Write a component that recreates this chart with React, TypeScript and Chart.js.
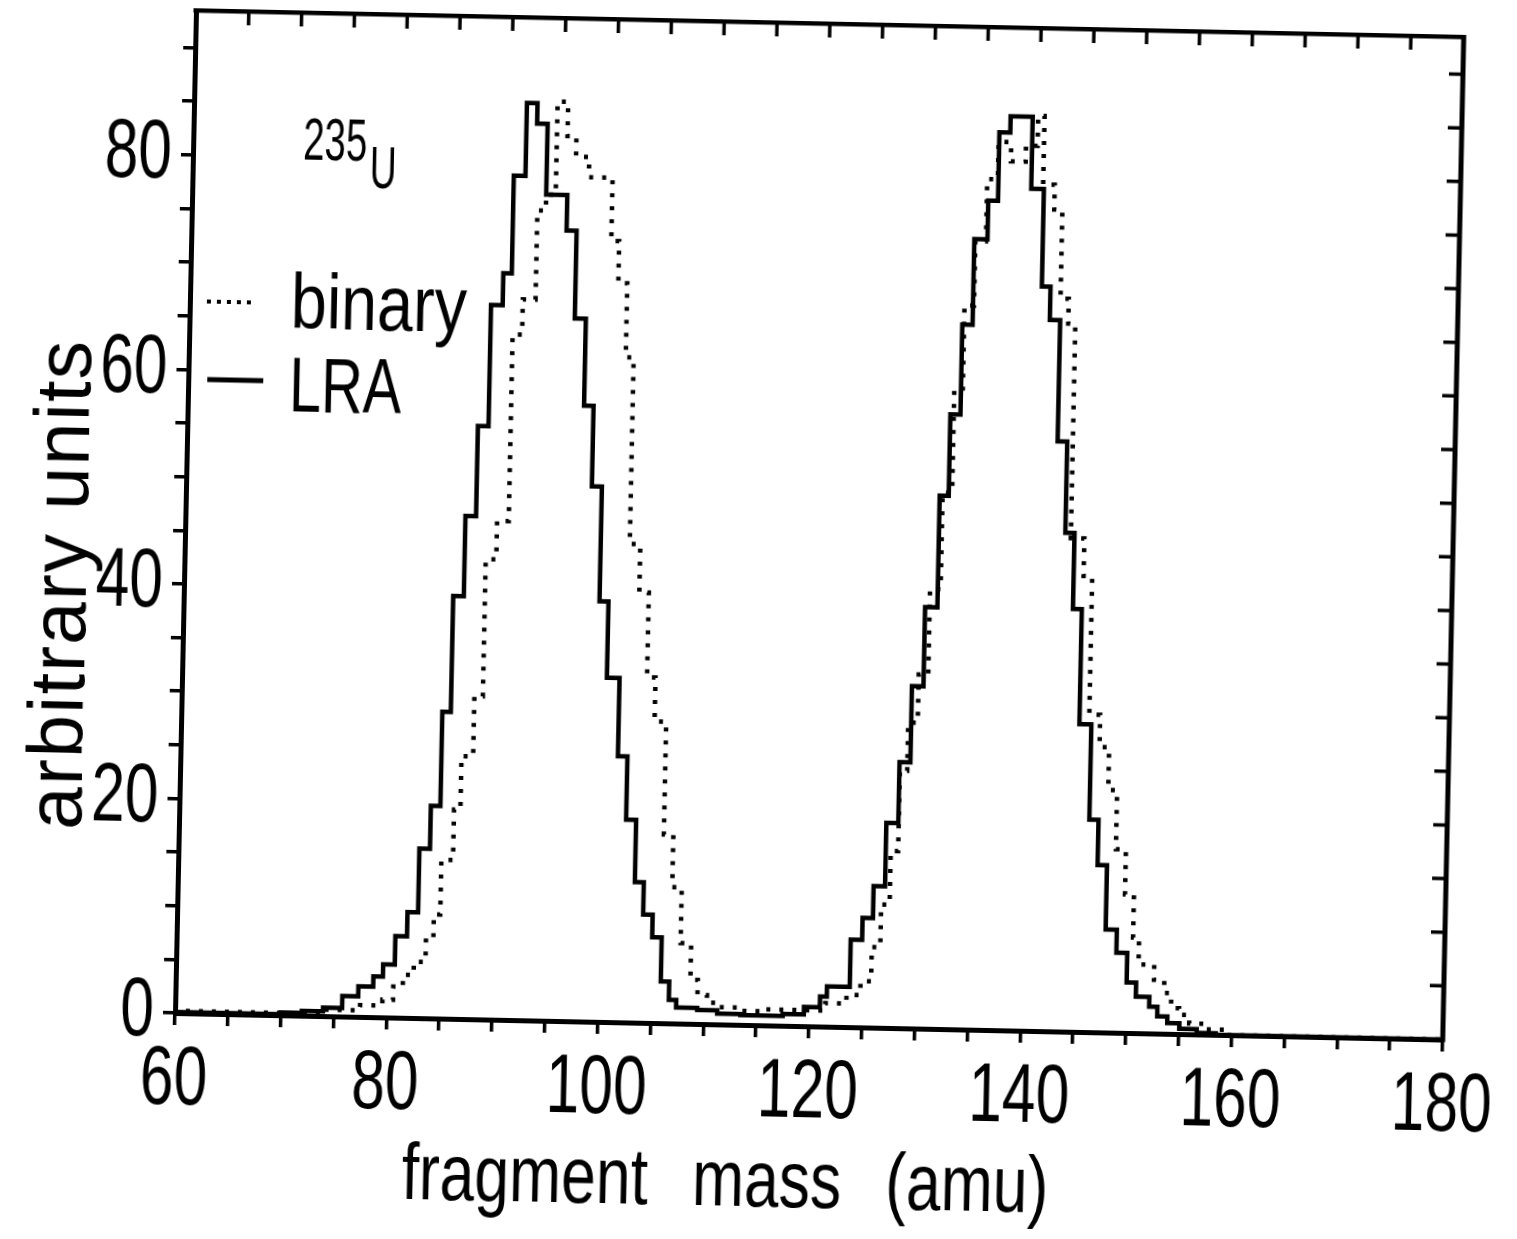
import { useEffect, useRef } from 'react';
import { Chart, registerables, LinearScale } from 'chart.js';

// ---- data (bin left edges in amu, and the height of each bin) ----
const lraEdges = [60, 70, 72, 74, 75.8, 77.3, 78.7, 79.6, 80.7, 81.8, 82.8, 83.8, 84.7, 85.5, 86.5, 87.5, 88.5, 89.6, 90.4, 91.5, 92.5, 93.5, 95.5, 96.45, 97.5, 98.4, 99.35, 100.2, 101.4, 102.3, 103.25, 104.1, 105.0, 105.9, 106.7, 107.4, 109.4, 111.3, 113.5, 117.5, 119.5, 121.0, 121.64, 123.79, 124.87, 125.85, 126.93, 128.06, 129.08, 130.17, 131.33, 132.18, 133.13, 134.1, 135.34, 136.26, 137.29, 139.38, 140.58, 141.4, 142.38, 143.29, 144.16, 145.0, 146.13, 147.0, 147.89, 148.95, 149.98, 150.88, 152.16, 152.94, 153.9, 155.05, 156.7, 158.5, 161, 180];
const lraValues = [0, 0.1, 0.25, 0.45, 0.8, 1.9, 2.85, 3.8, 4.95, 7.6, 9.85, 15.8, 19.8, 28.6, 39.4, 46.9, 55.3, 66.6, 69.6, 78.7, 85.5, 83.6, 77.0, 73.7, 65.5, 57.4, 49.9, 39.2, 32.1, 24.8, 18.9, 13.1, 10.1, 8.0, 3.9, 2.2, 1.5, 1.3, 1.0, 0.9, 1.1, 1.8, 2.8, 3.75, 8.15, 10.2, 13.2, 19.1, 24.8, 31.9, 39.3, 49.7, 57.3, 65.7, 73.7, 77.3, 83.7, 85.2, 78.5, 69.4, 66.3, 55.0, 46.5, 39.4, 28.7, 19.8, 15.6, 9.6, 7.45, 4.7, 3.4, 2.5, 1.6, 1.0, 0.5, 0.15, 0, 0];

const binaryEdges = [60, 74, 77.5, 79.6, 80.6, 81.5, 82.5, 83.6, 84.3, 84.9, 86.0, 86.6, 87.7, 88.5, 89.5, 90.6, 91.5, 92.7, 93.5, 94.4, 95.4, 96.25, 97.5, 99.75, 100.5, 101.35, 102.1, 103.1, 104.0, 104.8, 105.9, 106.8, 107.7, 108.7, 109.4, 110.3, 111.5, 113.4, 115.3, 121.5, 123.5, 124.8, 125.8, 126.6, 127.4, 128.1, 128.8, 129.7, 130.6, 131.6, 132.5, 133.3, 134.2, 135.2, 136.2, 137.4, 138.8, 139.9, 140.5, 141.6, 142.37, 143.15, 143.82, 145.1, 145.92, 146.95, 147.86, 148.7, 149.65, 150.5, 151.07, 152.56, 153.54, 154.23, 155.0, 155.98, 157.42, 159.3, 161.2, 180];
const binaryValues = [0, 0.2, 0.6, 1.1, 1.65, 2.9, 4.0, 5.25, 7.5, 9.7, 14.8, 19.5, 24.5, 30.1, 42.9, 46.5, 63.9, 67.2, 75.5, 77.0, 85.7, 82.5, 80.6, 78.7, 72.8, 68.9, 62.0, 44.6, 40.1, 32.2, 28.1, 17.6, 12.7, 7.5, 4.1, 2.7, 2.0, 1.6, 1.3, 1.5, 2.2, 3.0, 4.3, 7.5, 11.5, 16.5, 24.0, 28.5, 33.0, 41.0, 50.0, 59.5, 67.5, 73.5, 79.3, 82.8, 81.0, 82.5, 85.3, 78.9, 76.6, 68.3, 66.0, 46.0, 42.5, 29.6, 26.6, 22.6, 17.1, 12.9, 8.9, 6.4, 5.0, 3.8, 2.4, 1.8, 1.0, 0.5, 0, 0];

const seriesNames = ['binary', 'LRA'];
const xTitle = 'fragment mass (amu)';
const yTitle = 'arbitrary units';
const isotopeMass = '235';
const isotopeSymbol = 'U';

const X_MIN = 60;
const X_MAX = 180;
const Y_MIN = 0;
const Y_MAX = 93.5;
const TICK_STEP = 5;
const LABEL_STEP = 20;

const FONT = "'Liberation Sans', Arial, sans-serif";
const TICK_SQUEEZE = 0.72;

// Linear scale whose tick labels are drawn horizontally condensed (like the
// narrow typeface of the original figure).
class NarrowLinearScale extends LinearScale {
  static id = 'narrowLinear';
  static defaults = LinearScale.defaults;
  drawLabels(chartArea: any) {
    const self: any = this;
    if (!self.options.ticks.display) return;
    const ctx = self.ctx;
    for (const item of self.getLabelItems(chartArea)) {
      if (item.label === '' || item.label == null) continue;
      const o = item.options;
      ctx.save();
      ctx.translate(o.translation[0], o.translation[1]);
      if (o.rotation) ctx.rotate(o.rotation);
      ctx.scale(TICK_SQUEEZE, 1);
      ctx.font = item.font.string;
      ctx.fillStyle = o.color;
      ctx.textAlign = o.textAlign;
      ctx.textBaseline = o.textBaseline;
      ctx.fillText(String(item.label), 0, item.textOffset);
      ctx.restore();
    }
  }
}

Chart.register(...registerables, NarrowLinearScale);

const toPoints = (edges: number[], values: number[]) => edges.map((x, i) => ({ x, y: values[i] }));

function squeezedText(ctx: any, text: string, x: number, y: number, font: string, sx: number) {
  ctx.save();
  ctx.translate(x, y);
  ctx.scale(sx, 1);
  ctx.font = font;
  ctx.fillText(text, 0, 0);
  ctx.restore();
}

const framePlugin = {
  id: 'frameAndNotes',
  afterDraw(chart: any) {
    const { ctx, chartArea } = chart;
    const { left, right, top, bottom } = chartArea;
    const xs = chart.scales.x;
    const ys = chart.scales.y;
    ctx.save();
    ctx.strokeStyle = '#000';
    ctx.fillStyle = '#000';
    ctx.lineCap = 'butt';
    // top and right frame lines
    ctx.lineWidth = 5;
    ctx.beginPath();
    ctx.moveTo(left - 2.5, top);
    ctx.lineTo(right, top);
    ctx.lineTo(right, bottom + 2.5);
    ctx.stroke();
    // inward ticks on top and right
    ctx.lineWidth = 3.5;
    ctx.beginPath();
    for (const t of xs.ticks) {
      const px = xs.getPixelForValue(t.value);
      ctx.moveTo(px, top);
      ctx.lineTo(px, top + 14);
    }
    for (const t of ys.ticks) {
      const py = ys.getPixelForValue(t.value);
      ctx.moveTo(right, py);
      ctx.lineTo(right - 14, py);
    }
    ctx.stroke();

    // legend
    ctx.setLineDash([4, 6]);
    ctx.lineWidth = 4;
    ctx.beginPath();
    ctx.moveTo(left + 17, top + 291);
    ctx.lineTo(left + 62, top + 291);
    ctx.stroke();
    ctx.setLineDash([]);
    ctx.lineWidth = 5;
    ctx.beginPath();
    ctx.moveTo(left + 19, top + 369);
    ctx.lineTo(left + 75, top + 369);
    ctx.stroke();

    ctx.textAlign = 'left';
    ctx.textBaseline = 'alphabetic';
    squeezedText(ctx, seriesNames[0], left + 101, top + 316, `77px ${FONT}`, 0.84);
    squeezedText(ctx, seriesNames[1], left + 101, top + 399, `78px ${FONT}`, 0.74);

    // isotope label
    squeezedText(ctx, isotopeMass, left + 110, top + 147, `60px ${FONT}`, 0.64);
    squeezedText(ctx, isotopeSymbol, left + 177, top + 174, `60px ${FONT}`, 0.62);

    // x-axis title
    ctx.save();
    try { (ctx as any).wordSpacing = '34px'; } catch (e) { /* ignore */ }
    squeezedText(ctx, xTitle, left + 230, bottom + 181, `79px ${FONT}`, 0.79);
    ctx.restore();

    // y-axis title
    ctx.save();
    ctx.translate(left - 98, top + 822);
    ctx.rotate(-Math.PI / 2);
    ctx.font = `77px ${FONT}`;
    try { (ctx as any).letterSpacing = '1.6px'; } catch (e) { /* ignore */ }
    ctx.fillText(yTitle, 0, 0);
    ctx.restore();

    ctx.restore();
  },
};

const tickFont = { family: FONT, size: 84 };

export default function App() {
  const ref = useRef<HTMLCanvasElement>(null);

  useEffect(() => {
    if (!ref.current) return;
    const chart = new Chart(ref.current, {
      type: 'line',
      data: {
        datasets: [
          {
            label: seriesNames[0],
            data: toPoints(binaryEdges, binaryValues),
            stepped: 'after',
            borderColor: '#000',
            borderWidth: 4.5,
            borderDash: [4, 9],
            borderCapStyle: 'butt',
            pointRadius: 0,
            fill: false,
          },
          {
            label: seriesNames[1],
            data: toPoints(lraEdges, lraValues),
            stepped: 'after',
            borderColor: '#000',
            borderWidth: 4.5,
            borderJoinStyle: 'miter',
            pointRadius: 0,
            fill: false,
          },
        ],
      },
      options: {
        responsive: false,
        animation: false,
        events: [],
        layout: { padding: { left: 0, top: 2, right: 66, bottom: 0 } },
        plugins: {
          legend: { display: false },
          tooltip: { enabled: false },
          title: { display: false },
        },
        scales: {
          x: {
            type: 'narrowLinear',
            position: 'bottom',
            min: X_MIN,
            max: X_MAX,
            ticks: {
              stepSize: TICK_STEP,
              autoSkip: false,
              maxRotation: 0,
              minRotation: 0,
              includeBounds: false,
              padding: 5,
              color: '#000',
              font: tickFont,
              callback: (v: any) => (Number(v) % LABEL_STEP === 0 ? String(v) : ''),
            },
            grid: {
              display: true,
              drawOnChartArea: false,
              drawTicks: true,
              tickLength: 12,
              tickWidth: 3.5,
              tickColor: '#000',
              color: '#000',
              lineWidth: 3.5,
            },
            border: { display: true, color: '#000', width: 5 },
            title: { display: false },
            afterFit: (s: any) => {
              s.height = 218;
              s.paddingLeft = 0;
              s.paddingRight = 0;
            },
          },
          y: {
            type: 'narrowLinear',
            position: 'left',
            min: Y_MIN,
            max: Y_MAX,
            ticks: {
              stepSize: TICK_STEP,
              autoSkip: false,
              includeBounds: false,
              padding: 9,
              color: '#000',
              font: tickFont,
              callback: (v: any) => (Number(v) % LABEL_STEP === 0 ? String(v) : ''),
            },
            grid: {
              display: true,
              drawOnChartArea: false,
              drawTicks: true,
              tickLength: 12,
              tickWidth: 3.5,
              tickColor: '#000',
              color: '#000',
              lineWidth: 3.5,
            },
            border: { display: true, color: '#000', width: 5 },
            title: { display: false },
            afterFit: (s: any) => {
              s.width = 167;
              s.paddingTop = 0;
              s.paddingBottom = 0;
            },
          },
        },
      } as any,
      plugins: [framePlugin],
    });
    return () => chart.destroy();
  }, []);

  return (
    <div style={{ position: 'fixed', left: 0, top: 0, width: '100vw', height: '100vh', overflow: 'hidden', background: '#fff' }}>
      <div
        style={{
          position: 'absolute',
          left: 8,
          top: 8,
          width: 1501,
          height: 1223,
          transform: 'rotate(1.2deg)',
          transformOrigin: '167px 1005px',
        }}
      >
        <canvas ref={ref} width={1501} height={1223} style={{ display: 'block', width: 1501, height: 1223 }} />
      </div>
    </div>
  );
}
